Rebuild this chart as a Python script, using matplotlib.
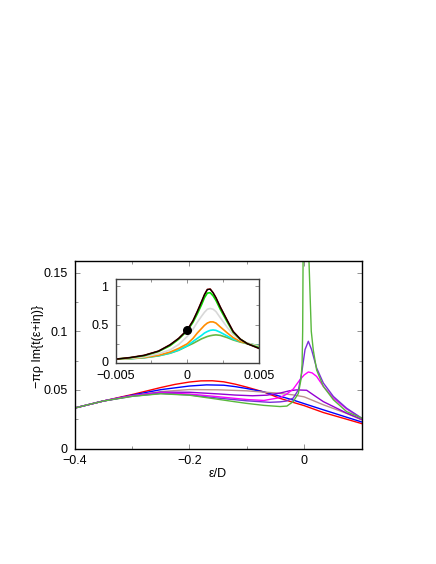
import matplotlib
matplotlib.use("Agg")
import matplotlib.pyplot as plt
from matplotlib.ticker import MultipleLocator
from matplotlib.transforms import ScaledTranslation

plt.rcParams['font.family'] = ['Liberation Sans', 'DejaVu Sans']
plt.rcParams['font.size'] = 9

# ---- main panel data (eps/D, -pi rho Im t) ----
red_x = [-0.4, -0.375, -0.35, -0.325, -0.3, -0.275, -0.25, -0.225, -0.2, -0.18, -0.16, -0.14, -0.12, -0.1, -0.07, -0.042, -0.02, 0.0, 0.0335, 0.074, 0.1]
red_y = [0.0345, 0.0375, 0.0405, 0.0433, 0.046, 0.049, 0.052, 0.0547, 0.0567, 0.0577, 0.0578, 0.0569, 0.0549, 0.0524, 0.0482, 0.0428, 0.0395, 0.0366, 0.0307, 0.025, 0.0213]

blue_x = [-0.4, -0.35, -0.3, -0.25, -0.2, -0.17, -0.14, -0.12, -0.1, -0.07, -0.042, -0.02, 0.0, 0.0335, 0.074, 0.1]
blue_y = [0.0345, 0.0405, 0.0455, 0.0502, 0.0533, 0.0543, 0.054, 0.0528, 0.0512, 0.0483, 0.0446, 0.0415, 0.0383, 0.033, 0.0267, 0.0227]

brown_x = [-0.4, -0.35, -0.3, -0.25, -0.2, -0.15, -0.1, -0.05, -0.02, 0.0, 0.0335, 0.074, 0.1]
brown_y = [0.0345, 0.0405, 0.045, 0.0485, 0.0503, 0.0501, 0.0492, 0.0474, 0.0458, 0.0441, 0.0373, 0.030, 0.0245]

dviolet_x = [-0.4, -0.35, -0.3, -0.25, -0.2, -0.15, -0.12, -0.09, -0.065, -0.042, -0.025, -0.013, 0.0045, 0.016, 0.0335, 0.051, 0.074, 0.1]
dviolet_y = [0.0345, 0.0405, 0.045, 0.048, 0.048, 0.0466, 0.0456, 0.045, 0.0455, 0.0473, 0.0493, 0.0500, 0.0497, 0.0458, 0.040, 0.0358, 0.0302, 0.025]

magenta_x = [-0.4, -0.35, -0.3, -0.25, -0.2, -0.15, -0.1, -0.07, -0.042, -0.031, -0.019, -0.0072, 0.0, 0.0074, 0.014, 0.0218, 0.0335, 0.051, 0.074, 0.1]
magenta_y = [0.0345, 0.0405, 0.045, 0.0475, 0.0465, 0.0442, 0.0418, 0.041, 0.0434, 0.0462, 0.0507, 0.0587, 0.0627, 0.0653, 0.0645, 0.0615, 0.053, 0.043, 0.0338, 0.0257]

bviolet_x = [-0.4, -0.35, -0.3, -0.25, -0.2, -0.15, -0.1, -0.06, -0.042, -0.031, -0.019, -0.01, -0.0042, 0.0016, 0.0074, 0.013, 0.0218, 0.0335, 0.051, 0.074, 0.1]
bviolet_y = [0.0345, 0.0405, 0.0445, 0.047, 0.0457, 0.043, 0.0407, 0.0394, 0.0398, 0.0405, 0.043, 0.050, 0.0644, 0.0844, 0.0915, 0.0844, 0.0687, 0.0559, 0.0444, 0.0344, 0.026]

green_x = [-0.4, -0.35, -0.3, -0.25, -0.2, -0.15, -0.122, -0.1, -0.07, -0.042, -0.03, -0.019, -0.01, -0.0055, -0.0035, -0.0025, -0.0018, 0.004, 0.0085, 0.0125, 0.016, 0.0218, 0.0335, 0.051, 0.074, 0.1]
green_y = [0.0345, 0.0405, 0.0445, 0.0467, 0.0455, 0.042, 0.040, 0.0385, 0.0368, 0.0358, 0.0362, 0.040, 0.047, 0.0587, 0.072, 0.100, 0.160, 0.300, 0.160, 0.100, 0.084, 0.067, 0.053, 0.0416, 0.0315, 0.026]

main_series = [
    (red_x, red_y, '#ff0000'),
    (blue_x, blue_y, '#0000ff'),
    (brown_x, brown_y, '#bc8f8f'),
    (dviolet_x, dviolet_y, '#9400d3'),
    (magenta_x, magenta_y, '#ff00ff'),
    (bviolet_x, bviolet_y, '#7b2fd8'),
    (green_x, green_y, '#58b83c'),
]

# ---- inset data ----
ins_x = [-0.005, -0.004, -0.003, -0.002, -0.0012, -0.0006, 0.0, 0.0004, 0.0007, 0.001, 0.0012, 0.0014,
         0.0016, 0.0018, 0.002, 0.0023, 0.0028, 0.0032, 0.0037, 0.0042, 0.005]
black_y = [0.05, 0.07, 0.10, 0.155, 0.237, 0.32, 0.43, 0.55, 0.67, 0.80, 0.89, 0.955, 0.96, 0.915, 0.85, 0.73, 0.55, 0.41, 0.31, 0.25, 0.19]
dred_y = [0.05, 0.07, 0.10, 0.155, 0.237, 0.32, 0.43, 0.55, 0.67, 0.80, 0.89, 0.958, 0.963, 0.915, 0.85, 0.73, 0.55, 0.41, 0.31, 0.25, 0.19]
lime_y = [0.05, 0.068, 0.095, 0.15, 0.225, 0.31, 0.42, 0.53, 0.64, 0.76, 0.85, 0.91, 0.915, 0.875, 0.815, 0.70, 0.53, 0.40, 0.31, 0.25, 0.20]
grey_y = [0.05, 0.06, 0.08, 0.12, 0.17, 0.24, 0.345, 0.44, 0.53, 0.61, 0.66, 0.70, 0.71, 0.70, 0.67, 0.59, 0.46, 0.37, 0.30, 0.26, 0.215]
orange_y = [0.05, 0.058, 0.072, 0.10, 0.142, 0.19, 0.25, 0.32, 0.39, 0.45, 0.49, 0.52, 0.535, 0.535, 0.52, 0.47, 0.39, 0.33, 0.28, 0.255, 0.22]
cyan_y = [0.05, 0.056, 0.07, 0.095, 0.13, 0.17, 0.225, 0.28, 0.32, 0.36, 0.39, 0.41, 0.425, 0.43, 0.425, 0.40, 0.35, 0.31, 0.28, 0.255, 0.225]
olive_y = [0.05, 0.055, 0.068, 0.093, 0.127, 0.165, 0.22, 0.255, 0.285, 0.315, 0.33, 0.345, 0.355, 0.362, 0.366, 0.36, 0.33, 0.30, 0.272, 0.25, 0.225]
dot_x = [0.0]
dot_y = [0.43]

inset_series = [
    (olive_y, '#66b844'),
    (cyan_y, '#00f0f0'),
    (orange_y, '#ff8c00'),
    (grey_y, '#d8d8d8'),
    (lime_y, '#00e000'),
    (dred_y, '#8b0000'),
    (black_y, '#000000'),
]

fig = plt.figure(figsize=(4.36, 5.64), dpi=100)
ax = fig.add_axes([74.5/436, 1-448.5/564, 287/436, 187.5/564])
for xs, ys, c in main_series:
    ax.plot(xs, ys, color=c, lw=1.0)
ax.set_xlim(-0.4, 0.1)
ax.set_ylim(0, 0.16)
ax.xaxis.set_minor_locator(MultipleLocator(0.1))
ax.yaxis.set_minor_locator(MultipleLocator(0.025))
ax.set_xticks([-0.4, -0.2, 0.0])
ax.set_xticklabels(['\u22120.4', '\u22120.2', '0'])
ax.set_yticks([0, 0.05, 0.1, 0.15])
ax.set_yticklabels(['0', '0.05', '0.1', '0.15'])
ax.tick_params(which='both', direction='in', top=True, right=True, color='#808080')
ax.tick_params(which='major', length=3.5, width=0.6)
ax.tick_params(which='minor', length=2.5, width=0.6)
ax.tick_params(axis='x', which='major', pad=4.5)
ax.tick_params(axis='y', which='major', pad=5)
for s in ax.spines.values():
    s.set_linewidth(1.0)
    s.set_color('#000000')
ax.set_xlabel('\u03b5/D', labelpad=1)
ax.set_ylabel('\u2212\u03c0\u03c1 Im{t(\u03b5+i\u03b7)}')
ax.yaxis.set_label_coords(-0.105, 0.545)

ins = fig.add_axes([115.5/436, 1-363/564, 143.5/436, 84.5/564])
for ys, c in inset_series:
    lw = 0.8 if c == '#000000' else 1.2
    ins.plot(ins_x, ys, color=c, lw=lw)
ins.plot(dot_x, dot_y, 'o', color='black', ms=5.5, zorder=5)
ins.set_xlim(-0.005, 0.005)
ins.set_ylim(0, 1.1)
ins.set_xticks([-0.005, 0.0, 0.005])
ins.set_xticklabels(['\u22120.005', '0', '0.005'])
ins.set_yticks([0, 0.5, 1])
ins.set_yticklabels(['0', '0.5', '1'])
ins.xaxis.set_minor_locator(MultipleLocator(0.0025))
ins.yaxis.set_minor_locator(MultipleLocator(0.25))
ins.tick_params(which='both', direction='in', top=True, right=True, color='#808080')
ins.tick_params(which='major', length=3, width=0.6)
ins.tick_params(which='minor', length=2.5, width=0.6)
ins.tick_params(axis='x', which='major', pad=5)
ins.tick_params(axis='y', which='major', pad=5)
for s in ins.spines.values():
    s.set_linewidth(1.0)
    s.set_color('#404040')
# nudge the inset's lowest y label slightly up, as in the reference
lbl0 = ins.get_yticklabels()[0]
lbl0.set_transform(lbl0.get_transform() + ScaledTranslation(0, 2/100, fig.dpi_scale_trans))

fig.savefig('out.png', dpi=100)
